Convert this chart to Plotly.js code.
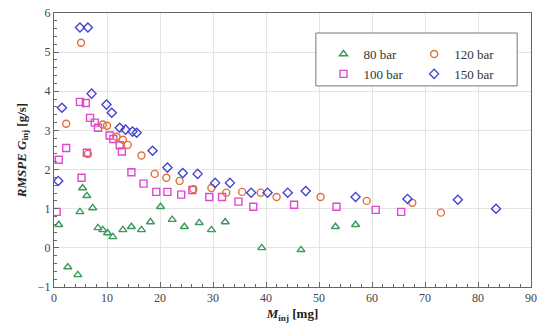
<!DOCTYPE html>
<html>
<head>
<meta charset="utf-8">
<script src="https://cdn.plot.ly/plotly-3.0.1.min.js"></script>
<style>html,body{margin:0;padding:0;background:#fff;}#chart{width:539px;height:333px;}</style>
</head>
<body>
<div id="chart"></div>
<script>
// 80 bar
const x80 = [0.9, 2.6, 4.5, 4.9, 5.4, 6.2, 7.3, 8.3, 9.2, 10.1, 11.1, 13.0, 14.6, 16.5, 18.2, 20.1, 22.3, 24.6, 27.4, 29.7, 32.3, 39.2, 46.6, 53.1, 56.9];
const y80 = [0.59, -0.49, -0.69, 0.92, 1.53, 1.33, 1.02, 0.51, 0.46, 0.38, 0.28, 0.46, 0.54, 0.46, 0.66, 1.05, 0.72, 0.54, 0.64, 0.46, 0.66, 0.0, -0.05, 0.54, 0.59];
// 100 bar
const x100 = [0.5, 0.9, 2.3, 4.9, 5.2, 6.0, 6.2, 6.8, 7.7, 8.3, 10.5, 11.2, 12.4, 12.8, 14.6, 16.9, 19.3, 21.4, 24.0, 26.1, 29.3, 31.7, 34.8, 37.6, 45.3, 53.3, 60.7, 65.5];
const y100 = [0.92, 2.25, 2.55, 3.73, 1.79, 3.7, 2.43, 3.32, 3.2, 3.07, 2.87, 2.78, 2.62, 2.46, 1.93, 1.64, 1.43, 1.43, 1.36, 1.48, 1.3, 1.3, 1.18, 1.05, 1.1, 1.05, 0.97, 0.92];
// 120 bar
const x120 = [2.3, 5.1, 6.4, 9.2, 10.0, 11.8, 13.0, 13.9, 16.5, 19.0, 21.2, 23.7, 26.3, 29.7, 32.5, 35.5, 39.0, 42.0, 50.3, 59.0, 67.6, 73.0];
const y120 = [3.17, 5.24, 2.4, 3.15, 3.12, 2.84, 2.76, 2.63, 2.36, 1.89, 1.79, 1.71, 1.5, 1.53, 1.41, 1.43, 1.41, 1.3, 1.3, 1.2, 1.15, 0.9];
// 150 bar
const x150 = [0.8, 1.5, 4.9, 6.4, 7.1, 9.9, 10.9, 12.4, 13.5, 14.8, 15.6, 18.6, 21.4, 24.3, 27.1, 30.4, 33.2, 37.2, 40.3, 44.1, 47.5, 56.9, 66.7, 76.2, 83.4];
const y150 = [1.71, 3.58, 5.63, 5.63, 3.94, 3.66, 3.45, 3.07, 3.02, 2.97, 2.94, 2.48, 2.05, 1.91, 1.89, 1.66, 1.66, 1.41, 1.41, 1.41, 1.45, 1.3, 1.25, 1.23, 1.0];

const seriesNames = ['80 bar', '100 bar', '120 bar', '150 bar'];
const colors = ['#3a9a5c', '#e048d0', '#e2703c', '#4444d0'];
const symbols = ['triangle-up-open', 'square-open', 'circle-open', 'diamond-open'];
const legendIds = ['legend', 'legend', 'legend2', 'legend2'];
const xs = [x80, x100, x120, x150];
const ys = [y80, y100, y120, y150];

const traces = xs.map((x, i) => ({
  type: 'scatter', mode: 'markers', x: x, y: ys[i], name: seriesNames[i],
  legend: legendIds[i],
  marker: {symbol: symbols[i], color: colors[i], size: 7, line: {width: 1.4, color: colors[i]}}
}));

const font = 'Liberation Serif';
const axisCommon = {
  showgrid: true, gridcolor: '#e4e4e4', gridwidth: 1,
  zeroline: false, showline: true, linecolor: '#666', linewidth: 1, mirror: true,
  ticks: 'inside', ticklen: 5, tickcolor: '#666',
  tickfont: {family: font, size: 12, color: '#444'}
};

const layout = {
  width: 539, height: 333,
  margin: {l: 54, r: 8, t: 13, b: 46},
  paper_bgcolor: '#fff', plot_bgcolor: '#fff',
  showlegend: true,
  font: {family: font},
  xaxis: Object.assign({}, axisCommon, {
    range: [0, 90], dtick: 10,
    minor: {ticks: 'inside', dtick: 2, ticklen: 3, tickcolor: '#666', showgrid: false},
    title: {text: '<b><i>M</i><sub>inj</sub> [mg]</b>', font: {family: font, size: 13, color: '#222'}, standoff: 4}
  }),
  yaxis: Object.assign({}, axisCommon, {
    range: [-1, 6], dtick: 1,
    minor: {ticks: 'inside', dtick: 0.2, ticklen: 3, tickcolor: '#666', showgrid: false},
    title: {text: '<b><i>RMSPE G</i><sub>inj</sub> [g/s]</b>', font: {family: font, size: 13, color: '#222'}, standoff: 8}
  }),
  legend: {x: 0.565, y: 0.905, xanchor: 'left', yanchor: 'top', bgcolor: 'rgba(0,0,0,0)',
    font: {family: font, size: 13, color: '#333'}, itemwidth: 30, tracegroupgap: 0},
  legend2: {x: 0.755, y: 0.905, xanchor: 'left', yanchor: 'top', bgcolor: 'rgba(0,0,0,0)',
    font: {family: font, size: 13, color: '#333'}, itemwidth: 30, tracegroupgap: 0},
  shapes: [{type: 'rect', xref: 'paper', yref: 'paper', x0: 0.549, x1: 0.971, y0: 0.734, y1: 0.927,
    line: {color: '#777', width: 1}, fillcolor: '#fff', layer: 'above'}]
};

Plotly.newPlot('chart', traces, layout, {displayModeBar: false, staticPlot: true});
</script>
</body>
</html>
